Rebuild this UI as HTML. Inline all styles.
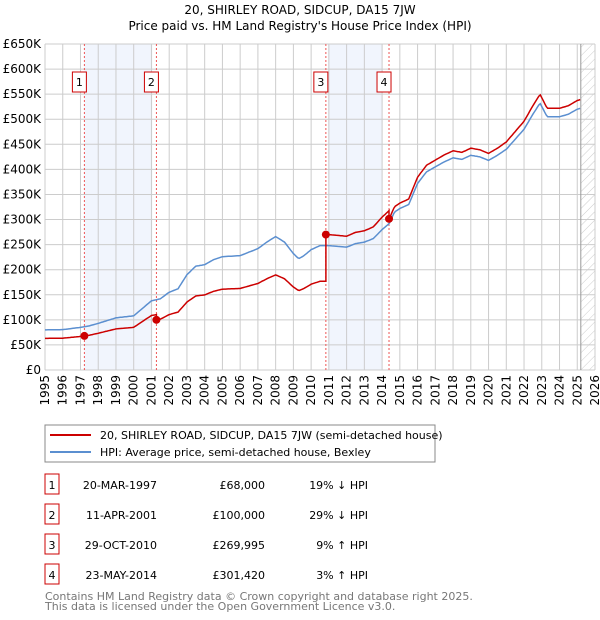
<!DOCTYPE html>
<html><head><meta charset="utf-8"><style>
body{margin:0;background:#fff;}
svg{display:block;font-family:"DejaVu Sans","Liberation Sans",sans-serif;}
</style></head><body>
<svg id="c" width="600" height="620" viewBox="0 0 600 620" xmlns="http://www.w3.org/2000/svg">
<text x="300" y="14" text-anchor="middle" font-size="12" fill="#000">20, SHIRLEY ROAD, SIDCUP, DA15 7JW</text>
<text x="300" y="30" text-anchor="middle" font-size="12" fill="#000">Price paid vs. HM Land Registry's House Price Index (HPI)</text>
<defs><pattern id="hatch" width="6" height="6" patternUnits="userSpaceOnUse" patternTransform="rotate(45)"><line x1="0" y1="0" x2="0" y2="6" stroke="#ccc" stroke-width="1"/></pattern></defs>
<g id="plot"></g>
<rect x="45" y="425" width="390" height="37" fill="#fff" stroke="#888"/>
<line x1="50" y1="435" x2="91" y2="435" stroke="#cc0000" stroke-width="2"/>
<text x="100" y="439" font-size="11">20, SHIRLEY ROAD, SIDCUP, DA15 7JW (semi-detached house)</text>
<line x1="50" y1="452" x2="91" y2="452" stroke="#5b8fd0" stroke-width="2"/>
<text x="100" y="456" font-size="11">HPI: Average price, semi-detached house, Bexley</text>
<g id="table" font-size="11"></g>
<text x="45" y="600" font-size="11" fill="#777">Contains HM Land Registry data © Crown copyright and database right 2025.</text>
<text x="45" y="610" font-size="11" fill="#777">This data is licensed under the Open Government Licence v3.0.</text>
</svg>
<script>
const hpiYears=[1995,1996,1997,1997.5,1998,1999,2000,2000.5,2001,2001.5,2002,2002.5,2003,2003.5,2004,2004.5,2005,2006,2007,2007.5,2008,2008.5,2009,2009.3,2009.6,2010,2010.5,2011,2012,2012.5,2013,2013.5,2014,2014.4,2014.7,2015,2015.5,2016,2016.5,2017,2017.5,2018,2018.5,2019,2019.5,2020,2020.5,2021,2021.5,2022,2022.5,2022.9,2023.3,2024,2024.5,2025,2025.2];
const hpiValues=[80000,80500,85000,88000,93000,104000,108000,123000,138000,142000,155000,162000,190000,207000,210000,220000,226000,228000,242000,255000,266000,255000,232000,222000,228000,240000,248000,248000,245000,252000,255000,262000,280000,292000,315000,322000,330000,372000,395000,405000,415000,423000,420000,428000,425000,418000,428000,440000,460000,480000,510000,532000,505000,505000,510000,520000,522000];
const saleDates=[1997.22,2001.28,2010.83,2014.39];
const salePrices=[68000,100000,269995,301420];
const saleLabels=["1","2","3","4"];
const saleDateText=["20-MAR-1997","11-APR-2001","29-OCT-2010","23-MAY-2014"];
const salePriceText=["£68,000","£100,000","£269,995","£301,420"];
const saleHpiText=["19% ↓ HPI","29% ↓ HPI","9% ↑ HPI","3% ↑ HPI"];
const yTicks=[0,50000,100000,150000,200000,250000,300000,350000,400000,450000,500000,550000,600000,650000];
const yTickLabels=["£0","£50K","£100K","£150K","£200K","£250K","£300K","£350K","£400K","£450K","£500K","£550K","£600K","£650K"];
const xTicks=[1995,1996,1997,1998,1999,2000,2001,2002,2003,2004,2005,2006,2007,2008,2009,2010,2011,2012,2013,2014,2015,2016,2017,2018,2019,2020,2021,2022,2023,2024,2025,2026];

const NS="http://www.w3.org/2000/svg";
const L=45,R=595,T=44,B=370;
const xS=t=>L+(t-1995)/(2026-1995)*(R-L);
const yS=v=>B-v/650000*(B-T);
function mk(tag,attrs,parent){const e=document.createElementNS(NS,tag);for(const k in attrs)e.setAttribute(k,attrs[k]);parent.appendChild(e);return e;}
function hpiAt(t){if(t<=hpiYears[0])return hpiValues[0];for(let i=1;i<hpiYears.length;i++){if(t<=hpiYears[i]){const f=(t-hpiYears[i-1])/(hpiYears[i]-hpiYears[i-1]);return hpiValues[i-1]+f*(hpiValues[i]-hpiValues[i-1]);}}return hpiValues[hpiValues.length-1];}
const g=document.getElementById('plot');
// shading
let s=mk('rect',{x:xS(1997.22),y:T,width:xS(2001.05)-xS(1997.22),height:B-T,fill:'#eef3fc',opacity:0.8},g);


s=mk('rect',{x:xS(2010.95),y:T,width:xS(2014.0)-xS(2010.95),height:B-T,fill:'#eef3fc',opacity:0.8},g);


s=mk('rect',{x:xS(2025.2),y:T,width:R-xS(2025.2),height:B-T,fill:'url(#hatch)'},g);


// grid
yTicks.forEach((v,i)=>{
 const ln=mk('line',{x1:L,x2:R,y1:yS(v),y2:yS(v),stroke:'#ccc'},g);
 
 
 const tx=mk('text',{x:L-4,y:yS(v)+4,'text-anchor':'end','font-size':'12'},g);
 tx.textContent=yTickLabels[i];
 
 
});
xTicks.forEach(t=>{
 const ln=mk('line',{x1:xS(t),x2:xS(t),y1:T,y2:B,stroke:'#ccc'},g);
 
 
 const tx=mk('text',{x:0,y:0,'text-anchor':'end','font-size':'12',transform:`translate(${xS(t)+4},${B+5}) rotate(-90)`},g);
 tx.textContent=t;
 
 
});
const edge=mk('line',{x1:xS(2025.2),x2:xS(2025.2),y1:T,y2:B,stroke:'#999'},g);


// sale vlines and labels
saleDates.forEach((d,i)=>{
 const ln=mk('line',{x1:xS(d),x2:xS(d),y1:T,y2:B,stroke:'#e55','stroke-dasharray':'2,2'},g);
 
 
 const bx=mk('rect',{x:xS(d)-12,y:72,width:14,height:20,fill:'#fff',stroke:'#cc0000'},g);
 
 
 const tx=mk('text',{x:xS(d)-5,y:86,'text-anchor':'middle','font-size':'11'},g);
 tx.textContent=saleLabels[i];
 
 
});
// HPI line
let fine=[];for(let t=1995;t<=2025.2001;t+=1/12)fine.push(t);
const hp=mk('path',{d:fine.map((t,i)=>(i?'L':'M')+xS(t).toFixed(1)+','+yS(hpiAt(t)).toFixed(1)).join(''),fill:'none',stroke:'#5b8fd0','stroke-width':1.5},g);


// price line: indexed from most recent sale
function priceAt(t){let k=0;for(let i=0;i<saleDates.length;i++)if(t>=saleDates[i])k=i;return salePrices[k]*hpiAt(t)/hpiAt(saleDates[k]);}
let pts=[];
fine.forEach(t=>{saleDates.forEach(d=>{if(d>t-1/12&&d<=t&&d>1995){pts.push([d-0.0001,priceAt(d-0.0001)]);pts.push([d,priceAt(d)]);}});pts.push([t,priceAt(t)]);});
pts.sort((a,b)=>a[0]-b[0]);
const pp=mk('path',{d:pts.map((p,i)=>(i?'L':'M')+xS(p[0]).toFixed(1)+','+yS(p[1]).toFixed(1)).join(''),fill:'none',stroke:'#cc0000','stroke-width':1.5},g);


saleDates.forEach((d,i)=>{
 const c=mk('circle',{cx:xS(d),cy:yS(salePrices[i]),r:4,fill:'#cc0000'},g);
 
 
});
// table
const tb=document.getElementById('table');
const rowY=[485,515,545,575];
saleLabels.forEach((lab,i)=>{
 const y=rowY[i];
 const bx=mk('rect',{x:45,y:y-11,width:14,height:20,fill:'#fff',stroke:'#cc0000'},tb);
 
 
 const cols=[[52,'middle',lab,'table-marker-label'],[157,'end',saleDateText[i],'table-date'],[265,'end',salePriceText[i],'table-price'],[368,'end',saleHpiText[i],'table-hpi-diff']];
 cols.forEach(c=>{const tx=mk('text',{x:c[0],y:y+4,'text-anchor':c[1]},tb);tx.textContent=c[2];
  
  });
});
</script>
</body></html>
